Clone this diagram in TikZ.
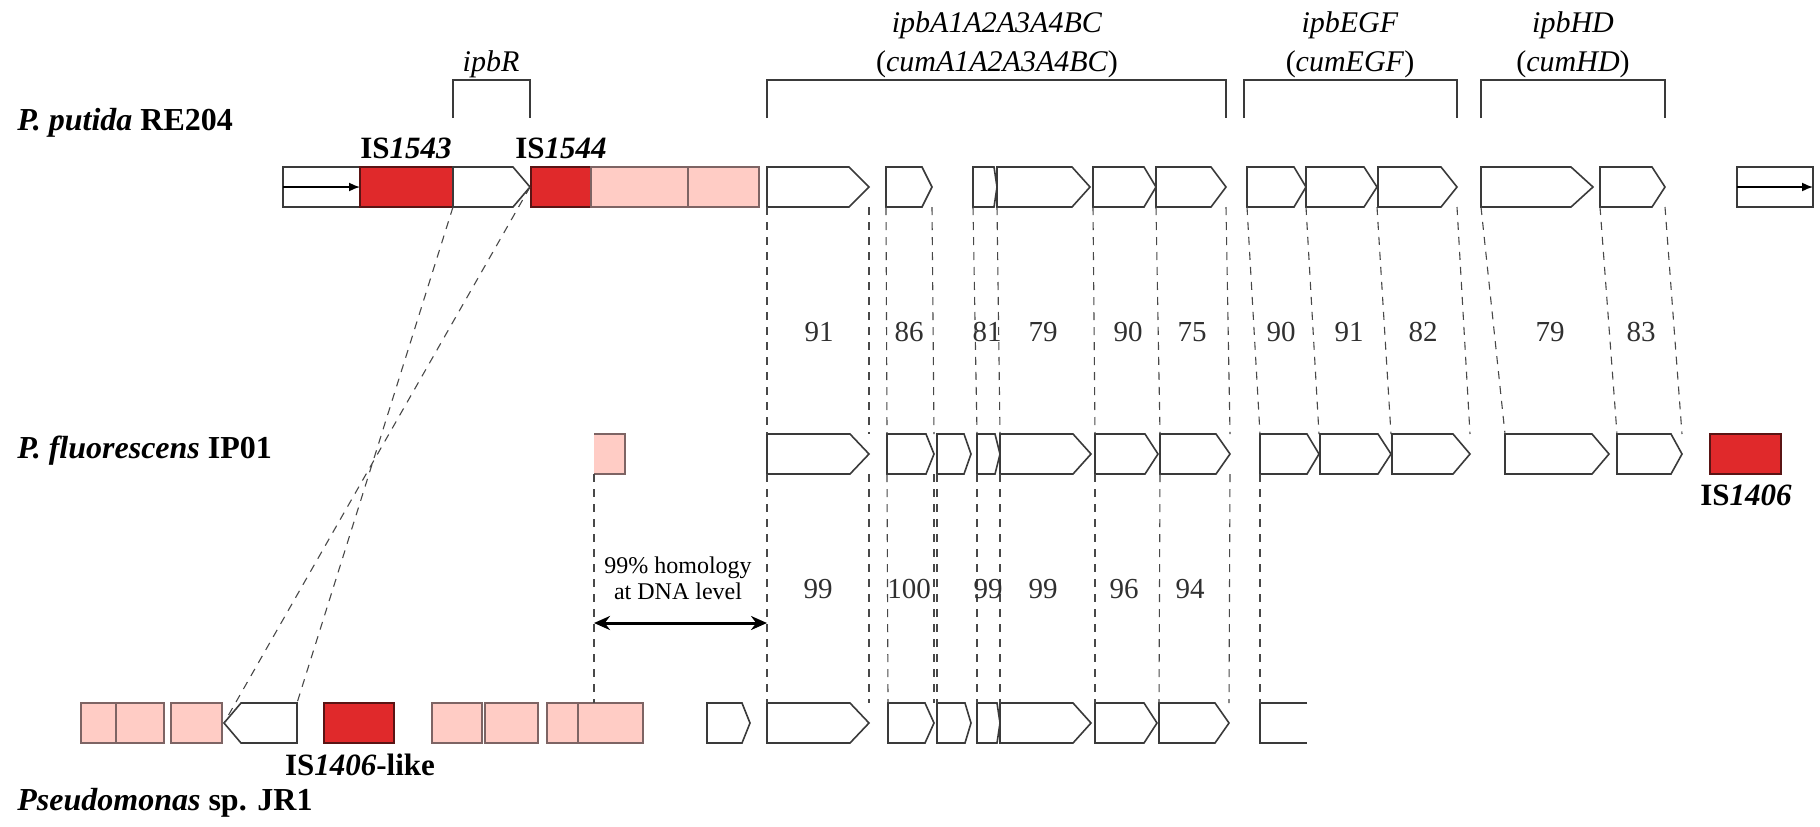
\documentclass[tikz,border=0pt]{standalone}
\usepackage{fontspec}
\setmainfont{Liberation Serif}
\usepackage{xcolor}
\usepackage{tikz}
\usetikzlibrary{positioning,arrows.meta,fit,calc}
\definecolor{gmRed}{HTML}{E0292B}
\definecolor{gmRedD}{HTML}{5A1414}
\definecolor{gmPink}{HTML}{FFCCC5}
\definecolor{gmPinkD}{HTML}{7D6464}
\definecolor{gmGray}{HTML}{3A3A3A}
\definecolor{gmDash}{HTML}{484848}
\definecolor{gmText}{HTML}{303030}
\tikzset{
  gm-slot/.style={inner sep=0pt, outer sep=0pt},
  gm-gene/.style={draw=gmGray, line width=0.8pt, fill=white, line join=miter},
  gm-plain/.style={gm-slot, draw=gmGray, line width=0.8pt, fill=white},
  gm-is/.style={gm-slot, draw=gmRedD, line width=0.8pt, fill=gmRed},
  gm-orf/.style={gm-slot, draw=gmPinkD, line width=0.8pt, fill=gmPink},
  gm-orfline/.style={draw=gmPinkD, line width=0.8pt},
  gm-homol/.style={draw=gmDash, line width=0.55pt, dash pattern=on 4pt off 3.5pt},
  gm-bracket/.style={draw=gmGray, line width=1pt},
  gm-promoter/.style={-{Latex[length=5.5pt,width=4.5pt]}, line width=0.8pt, draw=black},
  gm-span/.style={{Stealth[length=8pt,width=7pt]}-{Stealth[length=8pt,width=7pt]},
    line width=1.5pt, draw=black},
  gm-strain/.style={anchor=base west, inner sep=0pt,
    font=\fontsize{16}{19}\selectfont\bfseries},
  gm-cluster/.style={anchor=base, inner sep=0pt, font=\fontsize{15}{18}\selectfont},
  gm-islabel/.style={anchor=base, inner sep=0pt, font=\fontsize{15.5}{18}\selectfont\bfseries},
  gm-pct/.style={anchor=base, inner sep=0pt, text=gmText, font=\fontsize{14.5}{17}\selectfont},
  gm-note/.style={anchor=base, inner sep=0pt, font=\fontsize{12}{14}\selectfont}
}
% gene pointing right: name, start, tip, tip depth, row top
\newcommand{\gmgene}[5]{%
  \node[gm-slot, fit={(#2,#5) (#3,#5+40)}] (#1) {};
  \draw[gm-gene] (#1.south west) -- ([shift={(-#4,0)}]#1.south east)
    -- (#1.east) -- ([shift={(-#4,0)}]#1.north east) -- (#1.north west) -- cycle;}
% gene pointing left: name, tip, end, tip depth, row top
\newcommand{\gmgenel}[5]{%
  \node[gm-slot, fit={(#2,#5) (#3,#5+40)}] (#1) {};
  \draw[gm-gene] (#1.north east) -- (#1.south east) -- ([shift={(#4,0)}]#1.south west)
    -- (#1.west) -- ([shift={(#4,0)}]#1.north west) -- cycle;}
% plain block: style, name, start, end, row top
\newcommand{\gmbox}[5]{%
  \node[#1, fit={(#3,#5) (#4,#5+40)}] (#2) {};}

\begin{document}
\begin{tikzpicture}[x=0.5pt, y=-0.5pt]
\useasboundingbox (0,0) rectangle (1820,826);

% Strains
\node[gm-strain] (putida) at (17,130) {\textit{P. putida} RE204};
\node[gm-strain] (fluor) at (17,458) {\textit{P. fluorescens} IP01};
\node[gm-strain] (jr1) at (17,810) {\textit{Pseudomonas} sp. JR1};

% P. putida RE204
\gmbox{gm-plain}{pPro}{283}{360}{167}
\draw[gm-promoter] (pPro.west) -- (pPro.east);
\gmbox{gm-is}{pIS1}{360}{453}{167}
\gmgene{pR}{453}{530}{17}{167}
\gmbox{gm-is}{pIS2}{531}{591}{167}
\gmbox{gm-orf}{pOrf1}{591}{688}{167}
\gmbox{gm-orf}{pOrf2}{688}{759}{167}
\gmgene{pA1}{767}{869}{20}{167}
\gmgene{pA2}{886}{932}{10}{167}
\gmgene{pA4}{973}{997}{3}{167}
\gmgene{pB}{997}{1090}{18}{167}
\gmgene{pC}{1093}{1156}{12}{167}
\gmgene{pD}{1156}{1226}{15}{167}
\gmgene{pE}{1247}{1306}{12}{167}
\gmgene{pG}{1306}{1377}{13}{167}
\gmgene{pF}{1378}{1457}{16}{167}
\gmgene{pH}{1481}{1593}{22}{167}
\gmgene{pDh}{1600}{1665}{13}{167}
\gmbox{gm-plain}{pTer}{1737}{1813}{167}
\draw[gm-promoter] (pTer.west) -- (pTer.east);
\node[gm-islabel] (isA) at (406,158) {IS\textit{1543}};
\node[gm-islabel] (isB) at (561,158) {IS\textit{1544}};

% Clusters
\draw[gm-bracket] ([shift={(0,-49)}]pR.north west) -- ++(0,-38) -| ([shift={(0,-49)}]pR.north east);
\draw[gm-bracket] ([shift={(0,-49)}]pA1.north west) -- ++(0,-38) -| ([shift={(0,-49)}]pD.north east);
\draw[gm-bracket] ([shift={(-3,-49)}]pE.north west) -- ++(0,-38) -| ([shift={(0,-49)}]pF.north east);
\draw[gm-bracket] ([shift={(0,-49)}]pH.north west) -- ++(0,-38) -| ([shift={(0,-49)}]pDh.north east);
\node[gm-cluster] (lblR) at (491,71) {\textit{ipbR}};
\node[gm-cluster] (lblA) at (997,32) {\textit{ipbA1A2A3A4BC}};
\node[gm-cluster] (lblAc) at (997,71) {(\textit{cumA1A2A3A4BC})};
\node[gm-cluster] (lblE) at (1350,32) {\textit{ipbEGF}};
\node[gm-cluster] (lblEc) at (1350,71) {(\textit{cumEGF})};
\node[gm-cluster] (lblH) at (1573,32) {\textit{ipbHD}};
\node[gm-cluster] (lblHc) at (1573,71) {(\textit{cumHD})};

% P. fluorescens IP01
\node[gm-slot, fill=gmPink, fit={(594,434) (625,474)}] (fOrf) {};
\draw[gm-orfline] (fOrf.north west) -- (fOrf.north east) -- (fOrf.south east) -- (fOrf.south west);
\gmgene{fA1}{767}{869}{19}{434}
\gmgene{fA2}{887}{934}{8}{434}
\gmgene{fA3}{937}{971}{7}{434}
\gmgene{fA4}{977}{1000}{5}{434}
\gmgene{fB}{1000}{1091}{18}{434}
\gmgene{fC}{1095}{1158}{13}{434}
\gmgene{fD}{1160}{1230}{14}{434}
\gmgene{fE}{1260}{1319}{12}{434}
\gmgene{fG}{1320}{1391}{13}{434}
\gmgene{fF}{1392}{1470}{17}{434}
\gmgene{fH}{1505}{1609}{17}{434}
\gmgene{fDh}{1617}{1682}{11}{434}
\gmbox{gm-is}{fIS}{1710}{1781}{434}
\node[gm-islabel] (isC) at (1746,505) {IS\textit{1406}};

% Pseudomonas sp. JR1
\gmbox{gm-orf}{jOrf1}{81}{116}{703}
\gmbox{gm-orf}{jOrf2}{116}{164}{703}
\gmbox{gm-orf}{jOrf3}{171}{222}{703}
\gmgenel{jR}{224}{297}{17}{703}
\gmbox{gm-is}{jIS}{324}{394}{703}
\gmbox{gm-orf}{jOrf4}{432}{482}{703}
\gmbox{gm-orf}{jOrf5}{485}{538}{703}
\gmbox{gm-orf}{jOrf6}{547}{578}{703}
\gmbox{gm-orf}{jOrf7}{578}{643}{703}
\gmgene{jX}{707}{750}{8}{703}
\gmgene{jA1}{767}{869}{19}{703}
\gmgene{jA2}{888}{934}{9}{703}
\gmgene{jA3}{937}{971}{6}{703}
\gmgene{jA4}{977}{1000}{3}{703}
\gmgene{jB}{1000}{1091}{18}{703}
\gmgene{jC}{1095}{1157}{13}{703}
\gmgene{jD}{1159}{1229}{14}{703}
\node[gm-slot, fit={(1260,703) (1307,743)}] (jE) {};
\draw[gm-gene, fill=none] (jE.north east) -- (jE.north west) -- (jE.south west) -- (jE.south east);
\node[gm-islabel] (isD) at (360,775) {IS\textit{1406}-like};

% Homology RE204 -> IP01
\draw[gm-homol] (pA1.south west) -- (fA1.north west);
\draw[gm-homol] (pA1.south east) -- (fA1.north east);
\draw[gm-homol] (pA2.south west) -- (fA2.north west);
\draw[gm-homol] (pA2.south east) -- (fA2.north east);
\draw[gm-homol] (pA4.south west) -- (fA4.north west);
\draw[gm-homol] (pA4.south east) -- (fA4.north east);
\draw[gm-homol] (pC.south west) -- (fC.north west);
\draw[gm-homol] (pD.south west) -- (fD.north west);
\draw[gm-homol] (pD.south east) -- (fD.north east);
\draw[gm-homol] (pE.south west) -- (fE.north west);
\draw[gm-homol] (pE.south east) -- (fE.north east);
\draw[gm-homol] (pG.south east) -- (fG.north east);
\draw[gm-homol] (pF.south east) -- (fF.north east);
\draw[gm-homol] (pH.south west) -- (fH.north west);
\draw[gm-homol] (pDh.south west) -- (fDh.north west);
\draw[gm-homol] (pDh.south east) -- (fDh.north east);
\node[gm-pct] (idA1) at (819,341) {91};
\node[gm-pct] (idA2) at (909,341) {86};
\node[gm-pct] (idA4) at (987,341) {81};
\node[gm-pct] (idB) at (1043,341) {79};
\node[gm-pct] (idC) at (1128,341) {90};
\node[gm-pct] (idD) at (1192,341) {75};
\node[gm-pct] (idE) at (1281,341) {90};
\node[gm-pct] (idG) at (1349,341) {91};
\node[gm-pct] (idF) at (1423,341) {82};
\node[gm-pct] (idH) at (1550,341) {79};
\node[gm-pct] (idDh) at (1641,341) {83};

% Homology RE204 -> JR1 (inverted ipbR)
\draw[gm-homol] (pR.south west) -- (jR.north east);
\draw[gm-homol] (pR.east) -- (jR.west);

% Homology IP01 -> JR1
\draw[gm-homol] (fOrf.south west) -- (fOrf.south west |- jOrf7.north);
\draw[gm-homol] (fA1.south west) -- (jA1.north west);
\draw[gm-homol] (fA1.south east) -- (jA1.north east);
\draw[gm-homol] (fA2.south west) -- (jA2.north west);
\draw[gm-homol] (fA2.south east) -- (jA2.north east);
\draw[gm-homol] (fA3.south west) -- (jA3.north west);
\draw[gm-homol] (fA4.south west) -- (jA4.north west);
\draw[gm-homol] (fA4.south east) -- (jA4.north east);
\draw[gm-homol] (fC.south west) -- (jC.north west);
\draw[gm-homol] (fD.south west) -- (jD.north west);
\draw[gm-homol] (fD.south east) -- (jD.north east);
\draw[gm-homol] (fE.south west) -- (jE.north west);
\node[gm-pct] (jdA1) at (818,598) {99};
\node[gm-pct] (jdA2) at (909,598) {100};
\node[gm-pct] (jdA4) at (988,598) {99};
\node[gm-pct] (jdB) at (1043,598) {99};
\node[gm-pct] (jdC) at (1124,598) {96};
\node[gm-pct] (jdD) at (1190,598) {94};

% DNA level
\node[gm-note] (homA) at (678,573) {99\% homology};
\node[gm-note] (homB) at (678,599) {at DNA level};
\coordinate (spanY) at (0,623);
\draw[gm-span] (fOrf.west |- spanY) -- (fA1.west |- spanY);
\end{tikzpicture}
\end{document}
